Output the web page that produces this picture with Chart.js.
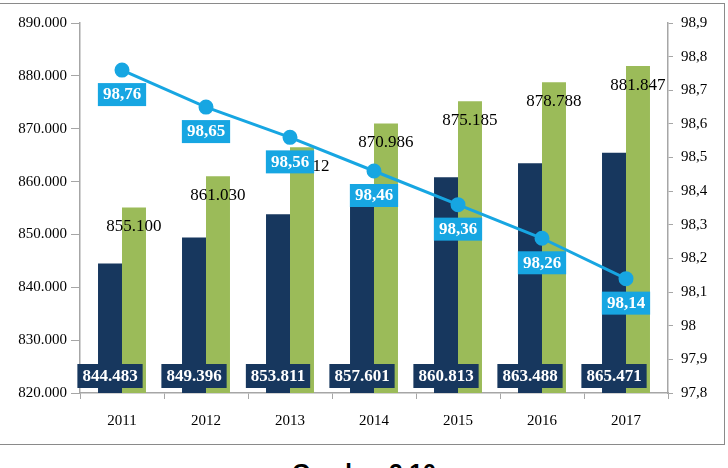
<!DOCTYPE html>
<html>
<head>
<meta charset="utf-8">
<script src="https://cdn.jsdelivr.net/npm/chart.js@4.4.1/dist/chart.umd.min.js"></script>
<style>
html,body{margin:0;padding:0;background:#fff;width:728px;height:468px;overflow:hidden;}
#wrap{position:absolute;left:0;top:0;width:728px;height:446px;}
#frame{position:absolute;left:-2px;top:3px;width:727px;height:442px;border:1.5px solid #8a8a8a;box-sizing:border-box;pointer-events:none;}
#cap{position:absolute;left:0;top:461px;width:728px;text-align:center;font:bold 24px "Liberation Sans",Arial,sans-serif;line-height:1;color:#000;}
</style>
</head>
<body>
<div id="frame"></div>
<div id="wrap"><canvas id="c"></canvas></div>
<div id="cap">Gambar 3.10</div>
<script>
const years = ['2011','2012','2013','2014','2015','2016','2017'];
const seriesNavy = [844483, 849396, 853811, 857601, 860813, 863488, 865471];
const seriesGreen = [855100, 861030, 866512, 870986, 875185, 878788, 881847];
const seriesPct = [98.76, 98.65, 98.56, 98.46, 98.36, 98.26, 98.14];

const NAVY = '#17375E', GREEN = '#9BBB59', BLUE = '#17A6E2';
const SERIF = '"Liberation Serif","Times New Roman",serif';

function fmtThousands(v){
  return Math.round(v).toString().replace(/\B(?=(\d{3})+(?!\d))/g,'.');
}
function fmtComma(v, d){
  const r = Math.round(v*Math.pow(10,d))/Math.pow(10,d);
  return String(r).replace('.',',');
}

const labelPlugin = {
  id:'labels',
  afterDatasetsDraw(chart){
    const ctx = chart.ctx;
    ctx.save();
    const gMeta = chart.getDatasetMeta(1);
    ctx.font = '17px ' + SERIF;
    ctx.fillStyle = '#000';
    ctx.textAlign = 'center';
    ctx.textBaseline = 'middle';
    gMeta.data.forEach((el,i)=>{
      ctx.fillText(fmtThousands(seriesGreen[i]), el.x, el.y + 19);
    });
    const nMeta = chart.getDatasetMeta(0);
    const bottom = chart.scales.y.bottom;
    ctx.font = 'bold 17px ' + SERIF;
    nMeta.data.forEach((el,i)=>{
      const t = fmtThousands(seriesNavy[i]);
      const w = ctx.measureText(t).width + 10;
      ctx.fillStyle = NAVY;
      ctx.fillRect(el.x - w/2, bottom - 29, w, 24);
      ctx.fillStyle = '#fff';
      ctx.fillText(t, el.x, bottom - 16.5);
    });
    const lMeta = chart.getDatasetMeta(2);
    lMeta.data.forEach((el,i)=>{
      const t = fmtComma(seriesPct[i],2);
      const w = ctx.measureText(t).width + 10;
      ctx.fillStyle = BLUE;
      ctx.fillRect(el.x - w/2, el.y + 13, w, 23);
      ctx.fillStyle = '#fff';
      ctx.fillText(t, el.x, el.y + 25);
    });
    ctx.restore();
  }
};

new Chart(document.getElementById('c'), {
  data:{
    labels: years,
    datasets:[
      {type:'bar', data: seriesNavy, backgroundColor: NAVY, yAxisID:'y', order:2, barPercentage:1, categoryPercentage:0.571},
      {type:'bar', data: seriesGreen, backgroundColor: GREEN, yAxisID:'y', order:2, barPercentage:1, categoryPercentage:0.571},
      {type:'line', data: seriesPct, borderColor: BLUE, backgroundColor: BLUE, borderWidth:3, pointRadius:6, pointBackgroundColor: BLUE, pointBorderColor: BLUE, yAxisID:'y1', order:0, tension:0}
    ]
  },
  options:{
    responsive:true,
    maintainAspectRatio:false,
    animation:false,
    layout:{padding:{top:23,left:0,right:0,bottom:0}},
    plugins:{legend:{display:false}, tooltip:{enabled:false}},
    scales:{
      x:{
        grid:{display:true, drawOnChartArea:false, drawTicks:true, tickLength:6, color:'#a6a6a6', offset:true},
        border:{display:true, color:'#a6a6a6', width:1.5},
        ticks:{font:{family:SERIF, size:15}, color:'#000', padding:13},
        afterFit(s){ s.height = 53; }
      },
      y:{
        position:'left',
        min:820000, max:890000,
        grid:{display:true, drawOnChartArea:false, drawTicks:true, tickLength:9, color:'#a6a6a6'},
        border:{display:true, color:'#a6a6a6', width:1.5},
        ticks:{stepSize:10000, font:{family:SERIF, size:15}, color:'#000', padding:4, callback:v=>fmtThousands(v)},
        afterFit(s){ s.width = 80; }
      },
      y1:{
        position:'right',
        min:97.8, max:98.9,
        grid:{display:true, drawOnChartArea:false, drawTicks:true, tickLength:5, color:'#a6a6a6'},
        border:{display:true, color:'#a6a6a6', width:1.5},
        ticks:{stepSize:0.1, font:{family:SERIF, size:15}, color:'#000', padding:8, callback:v=>fmtComma(v,1)},
        afterFit(s){ s.width = 60; }
      }
    }
  },
  plugins:[labelPlugin]
});
</script>
</body>
</html>
